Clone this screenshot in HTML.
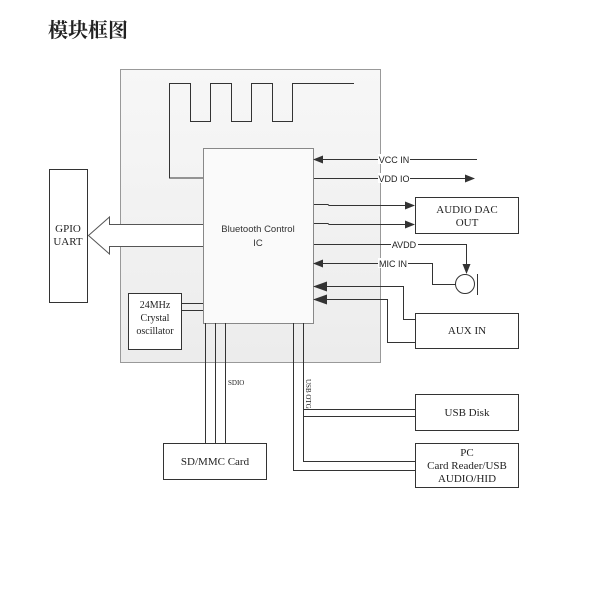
<!DOCTYPE html>
<html><head><meta charset="utf-8"><style>
body{margin:0;background:#fff;width:600px;height:600px;overflow:hidden}
</style></head><body>
<svg width="600" height="600" xmlns="http://www.w3.org/2000/svg">
<defs>
<linearGradient id="g" x1="0" y1="0" x2="0" y2="1"><stop offset="0" stop-color="#f7f7f7"/><stop offset="1" stop-color="#ececec"/></linearGradient>
<marker id="a" markerWidth="10" markerHeight="8" refX="9" refY="4" orient="auto" markerUnits="userSpaceOnUse"><path d="M0,0 L10,4 L0,8z" fill="#333"/></marker>
<marker id="b" markerWidth="14" markerHeight="10" refX="13" refY="5" orient="auto" markerUnits="userSpaceOnUse"><path d="M0,0 L14,5 L0,10z" fill="#333"/></marker>
</defs>
<text x="48" y="37" font-family="Noto Serif CJK SC, serif" font-weight="bold" font-size="20" fill="#222">模块框图</text>
<rect x="120.5" y="69.5" width="260" height="293" fill="url(#g)" stroke="#999"/>
<g fill="none" stroke="#333" stroke-width="1">
<path d="M203,178 H169.5 V83.5 H190.5 V121.5 H210.5 V83.5 H231.5 V121.5 H251.5 V83.5 H272.5 V121.5 H292.5 V83.5 H354"/>
</g>
<!-- GPIO arrow -->
<path d="M203,224.5 H109.5 V217 L88.5,235.5 L109.5,254 V246.5 H203" fill="#fff" stroke="#555"/>
<rect x="49.5" y="169.5" width="38" height="133" fill="#fff" stroke="#333"/>
<text font-family="Liberation Serif, serif" font-size="11" fill="#222" text-anchor="middle"><tspan x="68" y="232">GPIO</tspan><tspan x="68" y="245">UART</tspan></text>
<rect x="203.5" y="148.5" width="110" height="175" fill="#fafafa" stroke="#888"/>
<text font-family="Liberation Sans, sans-serif" font-size="9.5" fill="#333" text-anchor="middle"><tspan x="258" y="232">Bluetooth Control</tspan><tspan x="258" y="246">IC</tspan></text>
<rect x="128.5" y="293.5" width="53" height="56" fill="#fff" stroke="#333"/>
<text font-family="Liberation Serif, serif" font-size="10" fill="#222" text-anchor="middle"><tspan x="155" y="308">24MHz</tspan><tspan x="155" y="321">Crystal</tspan><tspan x="155" y="334">oscillator</tspan></text>
<g stroke="#333" fill="none">
<path d="M182,303.5 H203 M182,310.5 H203"/>
<path d="M477,159.5 H314" marker-end="url(#a)"/>
<path d="M314,178.5 H474" marker-end="url(#a)"/>
<path d="M314,204.5 H328 L329,205.5 H414" marker-end="url(#a)"/>
<path d="M314,223.5 H328 L329,224.5 H414" marker-end="url(#a)"/>
<path d="M314,244.5 H466.5 V273" marker-end="url(#a)"/>
<path d="M432.5,263.5 H314" marker-end="url(#a)"/>
<path d="M432.5,263 V284.5 H456"/>
<circle cx="465" cy="284" r="9.5" fill="#fff"/>
<path d="M477.5,274 V295"/>
<path d="M403.5,286.5 H314" marker-end="url(#b)"/>
<path d="M387.5,299.5 H314" marker-end="url(#b)"/>
<path d="M403.5,286 V319.5 H415 M387.5,299 V342.5 H415"/>
<path d="M205.5,323 V443 M215.5,323 V443 M225.5,323 V443"/>
<path d="M293.5,323 V470.5 H415 M303.5,323 V461.5 H415 M303.5,409.5 H415 M303.5,416.5 H415"/>
</g>
<g font-family="Liberation Sans, sans-serif" font-size="9" fill="#222" text-anchor="middle">
<rect x="378" y="154" width="32" height="10" fill="#fff"/><text x="394" y="163">VCC IN</text>
<rect x="378" y="173" width="32" height="10" fill="#fff"/><text x="394" y="182">VDD IO</text>
<rect x="391" y="239" width="27" height="10" fill="#fff"/><text x="404" y="248">AVDD</text>
<rect x="378" y="258" width="30" height="10" fill="#fff"/><text x="393" y="267">MIC IN</text>
</g>
<g fill="#fff" stroke="#333">
<rect x="415.5" y="197.5" width="103" height="36"/>
<rect x="415.5" y="313.5" width="103" height="35"/>
<rect x="415.5" y="394.5" width="103" height="36"/>
<rect x="415.5" y="443.5" width="103" height="44"/>
<rect x="163.5" y="443.5" width="103" height="36"/>
</g>
<g font-family="Liberation Serif, serif" font-size="11" fill="#222" text-anchor="middle">
<text x="467" y="213">AUDIO DAC</text><text x="467" y="226">OUT</text>
<text x="467" y="334">AUX IN</text>
<text x="467" y="416">USB Disk</text>
<text x="467" y="456">PC</text><text x="467" y="469">Card Reader/USB</text><text x="467" y="482">AUDIO/HID</text>
<text x="215" y="465">SD/MMC Card</text>
</g>
<text x="228" y="385" font-family="Liberation Serif, serif" font-size="7" fill="#222">SDIO</text>
<text transform="translate(306,379) rotate(90)" font-family="Liberation Serif, serif" font-size="7" fill="#222">USB OTG</text>
</svg>
</body></html>
